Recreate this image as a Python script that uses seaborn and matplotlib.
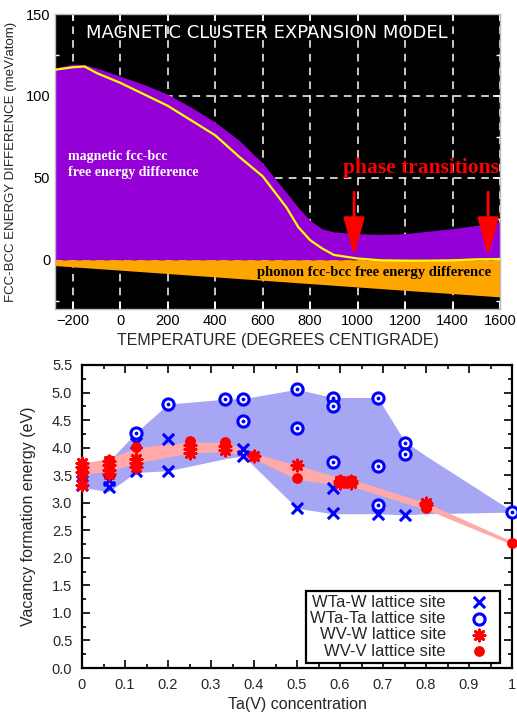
import numpy as np
import pandas as pd
import matplotlib
matplotlib.use("Agg")
import matplotlib.pyplot as plt
import seaborn as sns

# ---- top panel data ----
temp = [-275, -200, -150, -100, 0, 100, 200, 300, 400, 500, 600, 700, 750,
        800, 850, 900, 1000, 1100, 1200, 1300, 1400, 1500, 1600]
mag_top = [117, 119.5, 119, 117, 112, 107, 101, 93, 84, 73, 59, 41, 32,
           24, 19, 17, 16, 15.5, 16, 17.5, 19, 21, 23]
mag_line = [116, 117.5, 118, 114, 108, 101, 94, 85, 76, 63, 51, 32, 20,
            12, 7, 3, 0.8, -0.3, -0.5, -0.5, -0.3, 0.3, 0.5]
phonon_temp = [-275, 0, 400, 800, 1200, 1600]
phonon_low = [-3.5, -6.3, -10.4, -14.5, -18.6, -22.6]
transition_temps = [985, 1550]

# ---- bottom panel data ----
wta_w_x = [0, 0, 0.0625, 0.0625, 0.125, 0.125, 0.2, 0.2, 0.375, 0.375, 0.5,
           0.583, 0.583, 0.6875, 0.75]
wta_w_y = [3.33, 3.40, 3.29, 3.41, 3.57, 4.08, 3.58, 4.15, 3.84, 3.97, 2.90,
           2.81, 3.26, 2.80, 2.77]

wta_ta_x = [0.125, 0.2, 0.333, 0.375, 0.375, 0.5, 0.5, 0.583, 0.583, 0.583,
            0.6875, 0.6875, 0.6875, 0.75, 0.75, 1.0]
wta_ta_y = [4.27, 4.79, 4.88, 4.89, 4.49, 5.06, 4.36, 4.91, 4.76, 3.74,
            4.91, 3.66, 2.95, 4.09, 3.88, 2.83]

wv_w_x = [0, 0, 0, 0, 0.0625, 0.0625, 0.0625, 0.0625, 0.125, 0.125, 0.125,
          0.25, 0.25, 0.25, 0.333, 0.333, 0.4, 0.5, 0.6, 0.6, 0.625, 0.625,
          0.8, 0.8]
wv_w_y = [3.33, 3.55, 3.65, 3.72, 3.52, 3.6, 3.68, 3.75, 3.65, 3.72, 3.8,
          3.9, 3.98, 4.05, 3.95, 4.03, 3.85, 3.69, 3.35, 3.4, 3.35, 3.4,
          2.95, 3.0]

wv_v_x = [0, 0, 0, 0.0625, 0.0625, 0.0625, 0.125, 0.25, 0.25, 0.333, 0.333,
          0.4, 0.5, 0.6, 0.6, 0.625, 0.625, 0.8, 1.0]
wv_v_y = [3.5, 3.6, 3.65, 3.6, 3.7, 3.78, 4.01, 4.05, 4.12, 4.05, 4.1,
          3.85, 3.44, 3.38, 3.42, 3.38, 3.42, 2.9, 2.27]

band_x = [0, 0.0625, 0.125, 0.2, 0.333, 0.375, 0.5, 0.583, 0.6875, 0.75, 0.8, 1.0]
band_hi = [3.6, 3.75, 4.27, 4.79, 4.88, 4.89, 5.06, 4.91, 4.91, 4.12, 3.85, 2.85]
band_lo = [3.28, 3.2, 3.55, 3.58, 3.8, 3.85, 2.9, 2.8, 2.8, 2.78, 2.8, 2.83]

red_x = [0, 0.0625, 0.125, 0.25, 0.333, 0.4, 0.5, 0.6, 0.625, 0.8, 1.0]
red_hi = [3.72, 3.8, 4.0, 4.1, 4.1, 3.9, 3.68, 3.45, 3.43, 3.0, 2.3]
red_lo = [3.52, 3.57, 3.72, 3.9, 3.93, 3.8, 3.42, 3.32, 3.3, 2.88, 2.24]

labels = ["WTa-W lattice site", "WTa-Ta lattice site",
          "WV-W lattice site", "WV-V lattice site"]

sns.set_theme(style="ticks")
plt.rcParams["font.family"] = ["Liberation Sans", "DejaVu Sans"]

fig = plt.figure(figsize=(5.17, 7.16), dpi=100)

# ================= top panel =================
ax1 = fig.add_axes([55 / 517, 1 - 309 / 716, 445 / 517, 295 / 716])
ax1.set_facecolor("black")
ax1.set_axisbelow(True)

ax1.fill_between(temp, 0, mag_top, color="#9400d6", lw=0, zorder=1)
ax1.fill_between(phonon_temp, phonon_low, 0, color="#ffa500", lw=0, zorder=1)
sns.lineplot(x=temp, y=mag_line, color="#ffff00", lw=1.6, ax=ax1, zorder=3)

ax1.set_xlim(-275, 1600)
ax1.set_ylim(-30, 150)
ax1.set_xticks(range(-200, 1601, 200))
ax1.set_yticks([0, 50, 100, 150])
ax1.set_yticks([-25, 25, 75, 125], minor=True)
ax1.grid(True, color="white", ls=(0, (5, 4)), lw=1.1)
ax1.tick_params(axis="both", which="both", direction="in", color="white",
                labelcolor="black", labelsize=10.5, top=True, right=True)
ax1.tick_params(which="major", length=5)
ax1.tick_params(which="minor", length=3)
for sp in ax1.spines.values():
    sp.set_color("#bbbbbb")
    sp.set_linewidth(1)

ax1.set_xlabel("TEMPERATURE (DEGREES CENTIGRADE)", fontsize=11.5, labelpad=4)
ax1.set_ylabel("FCC-BCC ENERGY DIFFERENCE (meV/atom)", fontsize=9.5, labelpad=6)

ax1.text(0.477, 0.935, "MAGNETIC CLUSTER EXPANSION MODEL", transform=ax1.transAxes,
         color="white", fontsize=13, ha="center", va="center",
         family=["DejaVu Sans"])
ax1.text(-222, 67, "magnetic fcc-bcc\nfree energy difference", color="white",
         fontsize=10, family=["Liberation Serif"], fontweight="bold",
         va="top", ha="left", linespacing=1.25)
ax1.text(1267, 56, "phase transitions", color="red", fontsize=15.5,
         family=["Liberation Serif"], fontweight="bold", ha="center", va="center")
ax1.text(1070, -8, "phonon fcc-bcc free energy difference", color="black",
         fontsize=10.5, family=["Liberation Serif"], fontweight="bold",
         ha="center", va="center")
for t in transition_temps:
    ax1.annotate("", xy=(t, 0.5), xytext=(t, 43),
                 arrowprops=dict(arrowstyle="-|>,head_width=0.55,head_length=2.0",
                                 color="red", lw=2), zorder=5)

# ================= bottom panel =================
ax2 = fig.add_axes([82 / 517, 1 - 668 / 716, 430 / 517, 303 / 716])
ax2.set_facecolor("white")

ax2.fill_between(band_x, band_lo, band_hi, color="#a6a6f4", lw=0, zorder=1)
ax2.fill_between(red_x, red_lo, red_hi, color="#ffa9a9", lw=0, zorder=2)

sns.scatterplot(x=wta_w_x, y=wta_w_y, marker="x", s=65, color="#0000ff",
                linewidth=2.2, ax=ax2, label=labels[0], zorder=4, clip_on=False)
sns.scatterplot(x=wta_ta_x, y=wta_ta_y, marker="o", s=65, facecolor="white",
                edgecolor="#0000ff", linewidth=2.2, ax=ax2, label=labels[1],
                zorder=4, clip_on=False)
ax2.scatter(wta_ta_x, wta_ta_y, marker="o", s=3, color="#0000ff", zorder=5,
            clip_on=False)
sns.scatterplot(x=wv_w_x, y=wv_w_y, marker=(8, 2, 0), s=65, color="#ff0000",
                linewidth=2.0, ax=ax2, label=labels[2], zorder=4, clip_on=False)
sns.scatterplot(x=wv_v_x, y=wv_v_y, marker="o", s=60, color="#ff0000",
                edgecolor="#ff0000", linewidth=0, ax=ax2, label=labels[3],
                zorder=4, clip_on=False)

ax2.set_xlim(0, 1)
ax2.set_ylim(0, 5.5)
ax2.set_xticks(np.arange(0, 1.01, 0.1))
ax2.set_xticklabels(["0", "0.1", "0.2", "0.3", "0.4", "0.5", "0.6", "0.7",
                     "0.8", "0.9", "1"])
ax2.set_xticks(np.arange(0.05, 1.0, 0.1), minor=True)
ax2.set_yticks(np.arange(0, 5.51, 0.5))
ax2.set_yticklabels([f"{v:.1f}" for v in np.arange(0, 5.51, 0.5)])
ax2.set_yticks(np.arange(0.25, 5.5, 0.5), minor=True)
ax2.tick_params(axis="both", which="both", direction="in", top=True,
                right=True, color="black", labelsize=10.5, width=1.2)
ax2.tick_params(which="major", length=6, pad=7)
ax2.tick_params(which="minor", length=3)
for sp in ax2.spines.values():
    sp.set_color("black")
    sp.set_linewidth(1.6)
ax2.set_xlabel("Ta(V) concentration", fontsize=11.5, labelpad=4)
ax2.set_ylabel("Vacancy formation energy (eV)", fontsize=11.5, labelpad=11)

leg = ax2.legend(loc="lower right", bbox_to_anchor=(0.972, 0.017),
                 borderaxespad=0, markerfirst=False, fontsize=12,
                 frameon=True, fancybox=False, handletextpad=1.0,
                 labelspacing=0.08, borderpad=0.25)
leg.get_frame().set_edgecolor("black")
leg.get_frame().set_linewidth(1.6)
leg.get_frame().set_alpha(1)
leg.set_zorder(10)

fig.savefig("out.png", dpi=100)
